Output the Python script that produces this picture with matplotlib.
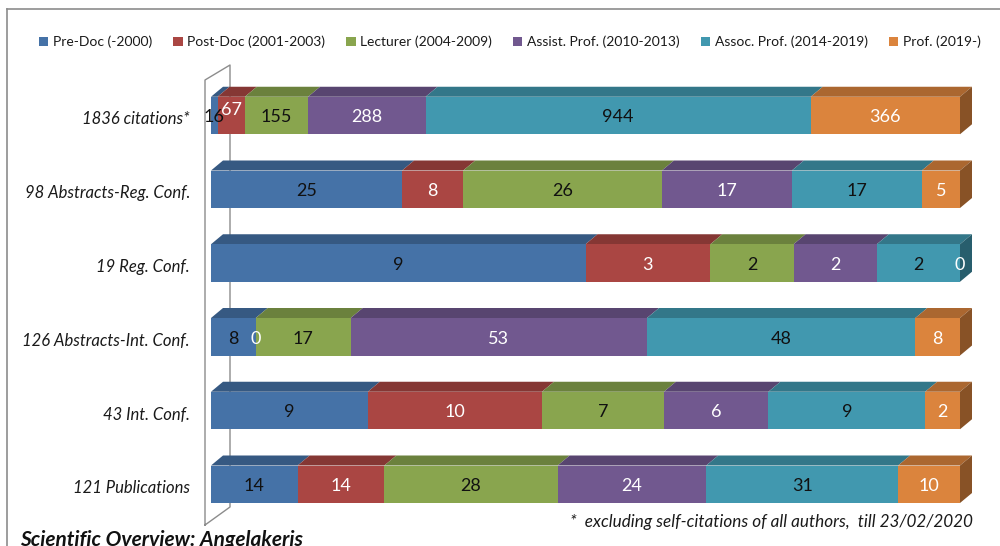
import matplotlib
matplotlib.use("Agg")
import matplotlib.pyplot as plt
from matplotlib.patches import Polygon
from matplotlib.lines import Line2D
import matplotlib.colors as mcolors
import numpy as np

plt.rcParams['font.family'] = ['Lato', 'DejaVu Sans']

categories = ["1836 citations*", "98 Abstracts-Reg. Conf.", "19 Reg. Conf.",
              "126 Abstracts-Int. Conf.", "43 Int. Conf.", "121 Publications"]
series_names = ["Pre-Doc (-2000)", "Post-Doc (2001-2003)", "Lecturer (2004-2009)",
                "Assist. Prof. (2010-2013)", "Assoc. Prof. (2014-2019)", "Prof. (2019-)"]
pre_doc = [16, 25, 9, 8, 9, 14]
post_doc = [67, 8, 3, 0, 10, 14]
lecturer = [155, 26, 2, 17, 7, 28]
assist_prof = [288, 17, 2, 53, 6, 24]
assoc_prof = [944, 17, 2, 48, 9, 31]
prof = [366, 5, 0, 8, 2, 10]

colors = ["#4572A7", "#AA4643", "#89A54E", "#71588F", "#4198AF", "#DB843D"]
label_colors = ["#111111", "white", "#111111", "white", "#111111", "white"]

series = [pre_doc, post_doc, lecturer, assist_prof, assoc_prof, prof]
data = np.array(series, dtype=float)  # shape (6 series, 6 rows)
totals = data.sum(axis=0)
frac = data / totals

W, H = 1000, 546
fig = plt.figure(figsize=(W / 100, H / 100), dpi=100)

# axes geometry in pixels
ax_left_px, ax_right_px = 211, 960
row0_px, spacing_px = 115.5, 73.75
ax_top_px = row0_px - spacing_px / 2
ax_bot_px = row0_px + 5 * spacing_px + spacing_px / 2
ax = fig.add_axes([ax_left_px / W, 1 - ax_bot_px / H,
                   (ax_right_px - ax_left_px) / W, (ax_bot_px - ax_top_px) / H])
ax.set_xlim(0, 1)
ax.set_ylim(5.5, -0.5)
ax.axis('off')

px_x = 1.0 / (ax_right_px - ax_left_px)
px_y = 1.0 / spacing_px
dx = 12 * px_x
dy = 10 * px_y
bar_h = 37.5 / spacing_px

def shade(c, f):
    r, g, b = mcolors.to_rgb(c)
    return (r * f, g * f, b * f)

def ypx(p):
    return (p - row0_px) / spacing_px

# side wall (left) drawn behind bars
wall_color = "#8c8c8c"
wx0 = (205 - ax_left_px) * px_x
wx1 = (230 - ax_left_px) * px_x
wall = [(wx0, ypx(525)), (wx0, ypx(80)), (wx1, ypx(65)), (wx1, ypx(507)), (wx0, ypx(525))]
ax.plot([p[0] for p in wall], [p[1] for p in wall], color=wall_color, lw=1.0,
        clip_on=False, zorder=0)

ypos = np.arange(len(categories))
left = np.zeros(len(categories))
handles = []
for k, (name, vals) in enumerate(zip(series_names, frac)):
    bars = ax.barh(ypos, vals, left=left, height=bar_h, color=colors[k],
                   label=name, zorder=3, linewidth=0)
    handles.append(bars)
    for i in range(len(categories)):
        l, r = left[i], left[i] + vals[i]
        yt = ypos[i] - bar_h / 2
        if vals[i] > 0:
            top = Polygon([(l, yt), (r, yt), (r + dx, yt - dy), (l + dx, yt - dy)],
                          closed=True, facecolor=shade(colors[k], 0.78),
                          edgecolor='none', zorder=2, clip_on=False)
            ax.add_patch(top)
    left = left + vals

# right side face of each bar (last non-zero segment)
for i in range(len(categories)):
    last = max(k for k in range(len(series)) if data[k, i] > 0)
    yt = ypos[i] - bar_h / 2
    yb = ypos[i] + bar_h / 2
    side = Polygon([(1, yt), (1, yb), (1 + dx, yb - dy), (1 + dx, yt - dy)],
                   closed=True, facecolor=shade(colors[last], 0.62),
                   edgecolor='none', zorder=2, clip_on=False)
    ax.add_patch(side)

# data labels
left = np.zeros(len(categories))
for k in range(len(series)):
    for i in range(len(categories)):
        cx = left[i] + frac[k, i] / 2
        yy = ypos[i] + 2 * px_y
        if i == 0 and k == 1:
            yy -= 0.1
        ax.text(cx, yy, f"{int(data[k, i])}", ha='center', va='center',
                fontsize=13, color=label_colors[k], zorder=5, clip_on=False)
    left = left + frac[k]

# category labels
for i, c in enumerate(categories):
    ax.text(-21 * px_x, ypos[i] + 4 * px_y, c, ha='right', va='center', fontsize=12,
            style='italic', color='#1a1a1a', clip_on=False)

# legend
leg = fig.legend(handles=handles, labels=series_names, loc='center',
                 bbox_to_anchor=(0.51, 1 - 42 / H), ncol=6, frameon=False,
                 fontsize=10, handlelength=0.65, handleheight=0.65,
                 handletextpad=0.35, columnspacing=1.52)
for t in leg.get_texts():
    t.set_color('#1a1a1a')

# outer chart border (top and left visible)
fig.add_artist(Line2D([7 / W, 7 / W], [0, 1 - 9 / H], color='#8c8c8c', lw=1.2,
                      transform=fig.transFigure))
fig.add_artist(Line2D([7 / W, 1], [1 - 9 / H, 1 - 9 / H], color='#8c8c8c', lw=1.2,
                      transform=fig.transFigure))

# footnote and title
fig.text(973 / W, 1 - 522 / H, "*  excluding self-citations of all authors,  till 23/02/2020",
         ha='right', va='center', fontsize=12.3, style='italic', color='#1a1a1a')
fig.text(20 / W, 1 - 530 / H, "Scientific Overview: Angelakeris",
         ha='left', va='top', fontsize=15, style='italic', weight='bold', color='#111111')

fig.savefig("out.png", dpi=100, facecolor='white')
